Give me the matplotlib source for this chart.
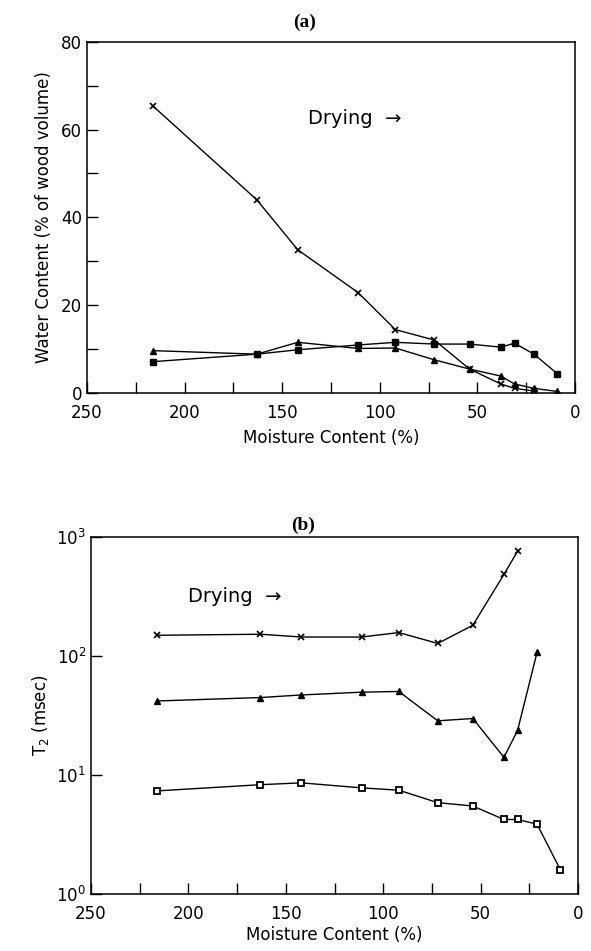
import matplotlib
matplotlib.use('Agg')
import matplotlib.pyplot as plt
from matplotlib.ticker import MultipleLocator, FixedLocator, NullLocator

# moisture content (%) for each measurement
mc = [216, 163, 142, 111, 92, 72, 54, 38, 31, 21, 9]

# (a) water content, % of wood volume
wc_x = [65.3, 44.0, 32.6, 22.8, 14.4, 12.0, 5.4, 2.0, 1.0, 0.4]
wc_tri = [9.6, 8.8, 11.5, 10.1, 10.2, 7.5, 5.4, 3.8, 2.0, 1.0, 0.3]
wc_sq = [7.1, 8.8, 9.8, 10.9, 11.5, 11.1, 11.1, 10.4, 11.3, 8.8, 4.3]

# (b) T2 (msec)
t2_x = [150, 153, 145, 145, 158, 128, 182, 488, 765]
t2_tri = [42, 44.9, 47.2, 49.8, 50.5, 28.6, 29.9, 14.1, 23.8, 108]
t2_sq = [7.36, 8.3, 8.6, 7.8, 7.46, 5.86, 5.49, 4.23, 4.23, 3.86, 1.59]

plt.rcParams['font.family'] = ['DejaVu Sans']
fs = 12

fig = plt.figure(figsize=(5.91, 9.51), dpi=100)
ax = fig.add_axes([0.147, 0.587, 0.826, 0.369])
ax2 = fig.add_axes([0.154, 0.060, 0.824, 0.375])

lk = dict(color='black', lw=1.0)
ax.plot(mc[:len(wc_x)], wc_x, marker='x', ms=5, mew=1.2, **lk)
ax.plot(mc[:len(wc_tri)], wc_tri, marker='^', ms=5, **lk)
ax.plot(mc[:len(wc_sq)], wc_sq, marker='s', ms=4.5, **lk)

ax2.plot(mc[:len(t2_x)], t2_x, marker='x', ms=5, mew=1.2, **lk)
ax2.plot(mc[:len(t2_tri)], t2_tri, marker='^', ms=5, **lk)
ax2.plot(mc[:len(t2_sq)], t2_sq, marker='s', ms=4.5, mfc='white', mew=1.3, **lk)

for a in (ax, ax2):
    a.set_xlim(250, 0)
    a.xaxis.set_major_locator(MultipleLocator(50))
    a.xaxis.set_minor_locator(MultipleLocator(25))
    a.tick_params(which='both', direction='in', length=8, width=1,
                  labelsize=fs, top=False, right=False)
    a.tick_params(axis='x', pad=8)
    for s in a.spines.values():
        s.set_linewidth(1.1)

ax.set_xlabel('Moisture Content (%)', fontsize=fs, labelpad=5)
ax2.set_xlabel('Moisture Content (%)', fontsize=fs, labelpad=2)

ax.set_ylim(0, 80)
ax.yaxis.set_major_locator(MultipleLocator(20))
ax.yaxis.set_minor_locator(MultipleLocator(10))
ax.set_ylabel('Water Content (% of wood volume)', fontsize=fs, labelpad=6)
ax.text(137, 62.5, 'Drying  \u2192', fontsize=14, va='center', ha='left')

ax2.set_yscale('log')
ax2.set_ylim(1, 1000)
ax2.yaxis.set_major_locator(FixedLocator([1, 10, 100, 1000]))
ax2.yaxis.set_minor_locator(NullLocator())
ax2.set_ylabel('T$_2$ (msec)', fontsize=fs, labelpad=4)
ax2.text(200, 316, 'Drying  \u2192', fontsize=14, va='center', ha='left')

fig.text(305 / 591, 1 - 22 / 951, '(a)', family='Liberation Serif',
         weight='bold', fontsize=14, ha='center', va='center')
fig.text(303 / 591, 1 - 525 / 951, '(b)', family='Liberation Serif',
         weight='bold', fontsize=14, ha='center', va='center')

fig.savefig('out.png', dpi=100)
